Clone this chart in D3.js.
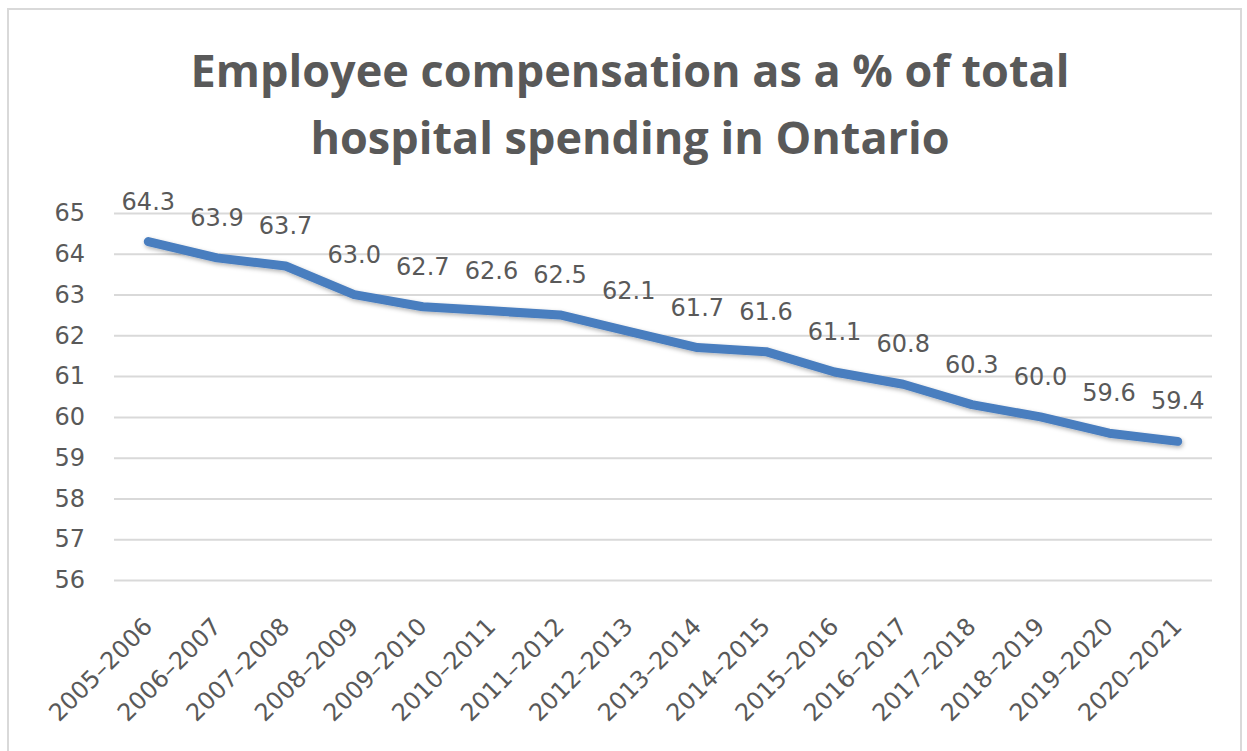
<!DOCTYPE html>
<html>
<head>
<meta charset="utf-8">
<script src="https://cdn.jsdelivr.net/npm/d3@7"></script>
<style>
  body { margin: 0; background: #fff; }
  svg { display: block; font-family: "DejaVu Sans", sans-serif; }
</style>
</head>
<body>
<svg id="chart" width="1247" height="751"></svg>
<script>
// data
var years = ["2005–2006", "2006–2007", "2007–2008", "2008–2009", "2009–2010",
             "2010–2011", "2011–2012", "2012–2013", "2013–2014", "2014–2015",
             "2015–2016", "2016–2017", "2017–2018", "2018–2019", "2019–2020",
             "2020–2021"];
var shares = [64.3, 63.9, 63.7, 63.0, 62.7, 62.6, 62.5, 62.1, 61.7, 61.6,
              61.1, 60.8, 60.3, 60.0, 59.6, 59.4];
var yTicks = [56, 57, 58, 59, 60, 61, 62, 63, 64, 65];
var titleLines = ["Employee compensation as a % of total",
                  "hospital spending in Ontario"];

var svg = d3.select("#chart"),
    textGrey = "#595959",
    lineBlue = "#4a7ebf",
    bodyFont = "'DejaVu Sans', sans-serif";

var plot = {left: 114, right: 1212, top: 213, bottom: 580};

var x = d3.scalePoint().domain(years).range([plot.left, plot.right]).padding(0.5),
    y = d3.scaleLinear().domain([56, 65]).range([plot.bottom, plot.top]);

// frame round the chart
svg.append("rect")
    .attr("x", 8).attr("y", 9)
    .attr("width", 1233).attr("height", 760)
    .attr("fill", "none")
    .attr("stroke", "#d9d9d9")
    .attr("stroke-width", 2);

// drop shadow for the line
var defs = svg.append("defs");
var f = defs.append("filter").attr("id", "shadow")
    .attr("x", "-5%").attr("y", "-20%").attr("width", "110%").attr("height", "140%");
f.append("feDropShadow")
    .attr("dx", 1).attr("dy", 2).attr("stdDeviation", 2)
    .attr("flood-color", "#000").attr("flood-opacity", 0.3);

// title
svg.append("g").selectAll("text")
    .data(titleLines)
  .enter().append("text")
    .attr("x", 630)
    .attr("y", function(d, i) { return 87 + i * 67; })
    .attr("text-anchor", "middle")
    .attr("font-family", "'Open Sans', sans-serif")
    .attr("font-size", 45)
    .attr("font-weight", "bold")
    .attr("fill", textGrey)
    .text(function(d) { return d; });

// y axis with gridlines
var yAxis = svg.append("g")
    .attr("transform", "translate(" + plot.left + ",0)")
    .call(d3.axisLeft(y).tickValues(yTicks)
            .tickSize(-(plot.right - plot.left)).tickPadding(29)
            .tickFormat(d3.format("d")));
yAxis.select(".domain").remove();
yAxis.selectAll(".tick line").attr("stroke", "#d9d9d9").attr("stroke-width", 2);
yAxis.selectAll(".tick text")
    .attr("fill", textGrey)
    .attr("font-size", 24)
    .attr("font-family", bodyFont);

// x axis labels, rotated
var xAxis = svg.append("g")
    .attr("transform", "translate(0," + plot.bottom + ")")
    .call(d3.axisBottom(x).tickSize(0).tickPadding(0));
xAxis.select(".domain").remove();
xAxis.selectAll(".tick text")
    .attr("fill", textGrey)
    .attr("font-size", 24)
    .attr("font-family", bodyFont)
    .attr("text-anchor", "end")
    .attr("dy", 0)
    .attr("transform", "translate(5,48) rotate(-45)");

// the line
var line = d3.line()
    .x(function(d, i) { return x(years[i]); })
    .y(function(d) { return y(d); });

svg.append("path")
    .datum(shares)
    .attr("d", line)
    .attr("fill", "none")
    .attr("stroke", lineBlue)
    .attr("stroke-width", 9)
    .attr("stroke-linejoin", "round")
    .attr("stroke-linecap", "round")
    .attr("filter", "url(#shadow)");

// value labels above each point
svg.append("g").selectAll("text")
    .data(shares)
  .enter().append("text")
    .attr("x", function(d, i) { return x(years[i]); })
    .attr("y", function(d) { return y(d) - 32; })
    .attr("text-anchor", "middle")
    .attr("font-size", 24)
    .attr("font-family", bodyFont)
    .attr("fill", textGrey)
    .text(function(d) { return d.toFixed(1); });
</script>
</body>
</html>
